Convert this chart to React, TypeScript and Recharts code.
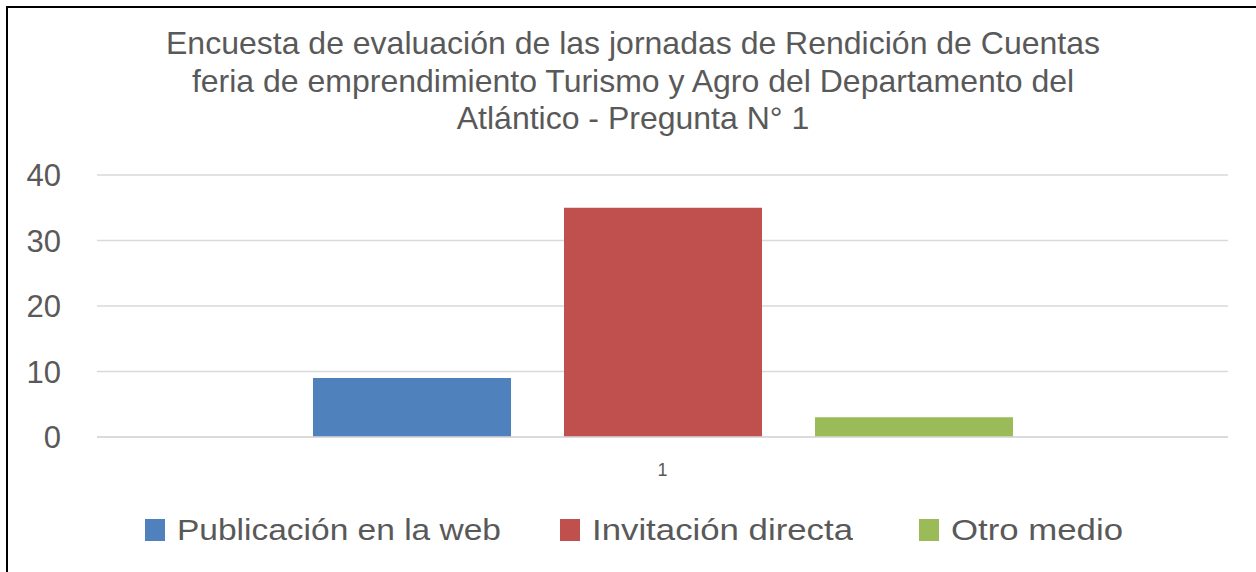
import React from 'react';
import { BarChart, Bar, XAxis, YAxis, CartesianGrid, Legend } from 'recharts';

const categories = ['1'];
const webValues = [9];
const directValues = [35];
const otherValues = [3];
const seriesNames = ['Publicación en la web', 'Invitación directa', 'Otro medio'];
const seriesKeys = ['web', 'direct', 'other'];
const seriesColors = ['#4F81BD', '#C0504D', '#9BBB59'];
const yTicks = [0, 10, 20, 30, 40];
const titleLines = [
  'Encuesta de evaluación de las jornadas de Rendición de Cuentas',
  'feria de emprendimiento Turismo y Agro del Departamento del',
  'Atlántico - Pregunta N° 1',
];
const legendTextWidths = [324, 261, 172];

const data = categories.map((c, i) => ({
  name: c,
  web: webValues[i],
  direct: directValues[i],
  other: otherValues[i],
}));

const FONT = '"Liberation Sans", Arial, sans-serif';
const TEXT_COLOR = '#595959';

const renderLegend = (props: any) => {
  const payload = [...(props.payload || [])].sort(
    (a: any, b: any) => seriesNames.indexOf(a.value) - seriesNames.indexOf(b.value)
  );
  const gaps = [59, 66];
  return (
    <div
      style={{
        height: 60,
        paddingTop: 3,
        paddingLeft: 12,
        boxSizing: 'border-box',
        display: 'flex',
        justifyContent: 'center',
        alignItems: 'flex-start',
      }}
    >
      {payload.map((entry: any, i: number) => {
        const idx = seriesNames.indexOf(entry.value);
        const tw = legendTextWidths[idx] ?? 200;
        return (
          <svg
            key={entry.value}
            width={32 + tw}
            height={32}
            style={{ marginRight: i < payload.length - 1 ? gaps[i] : 0, display: 'block' }}
          >
            <rect x={0} y={4} width={20} height={22} fill={entry.color} />
            <text
              x={32}
              y={25}
              fontFamily={FONT}
              fontSize={29}
              fill={TEXT_COLOR}
              textLength={tw}
              lengthAdjust="spacingAndGlyphs"
            >
              {entry.value}
            </text>
          </svg>
        );
      })}
    </div>
  );
};

export default function App() {
  return (
    <div
      style={{
        position: 'absolute',
        left: 0,
        top: 0,
        width: 1256,
        height: 572,
        background: '#ffffff',
        overflow: 'hidden',
        fontFamily: FONT,
      }}
    >
      <BarChart
        width={1256}
        height={572}
        data={data}
        margin={{ top: 175, right: 28, left: 0, bottom: 0 }}
        barGap={53}
      >
        <CartesianGrid vertical={false} stroke="#d9d9d9" strokeWidth={1.5} />
        <XAxis
          dataKey="name"
          height={75}
          tickLine={false}
          tickSize={0}
          tickMargin={26}
          axisLine={{ stroke: '#d9d9d9', strokeWidth: 1.5 }}
          tick={{ fill: TEXT_COLOR, fontSize: 18, fontFamily: FONT }}
        />
        <YAxis
          width={97}
          domain={[0, 40]}
          ticks={yTicks}
          interval={0}
          axisLine={false}
          tickLine={false}
          tickSize={0}
          tickMargin={36}
          tick={{ fill: TEXT_COLOR, fontSize: 31, fontFamily: FONT }}
        />
        <Legend
          verticalAlign="bottom"
          align="center"
          content={renderLegend}
          wrapperStyle={{ left: 0, width: 1256 }}
        />
        {seriesKeys.map((k, i) => (
          <Bar
            key={k}
            dataKey={k}
            name={seriesNames[i]}
            fill={seriesColors[i]}
            barSize={198}
            isAnimationActive={false}
          />
        ))}
      </BarChart>
      <div
        style={{
          position: 'absolute',
          left: 133,
          top: 25.2,
          width: 1000,
          textAlign: 'center',
          fontSize: 32,
          lineHeight: '37.5px',
          color: TEXT_COLOR,
          fontFamily: FONT,
        }}
      >
        {titleLines.map((l) => (
          <div key={l} style={{ whiteSpace: 'nowrap' }}>
            {l}
          </div>
        ))}
      </div>
      <div
        style={{
          position: 'absolute',
          left: 6,
          top: 6,
          width: 1260,
          height: 580,
          borderLeft: '2px solid #000',
          borderTop: '2px solid #000',
          boxSizing: 'border-box',
          pointerEvents: 'none',
        }}
      />
    </div>
  );
}
